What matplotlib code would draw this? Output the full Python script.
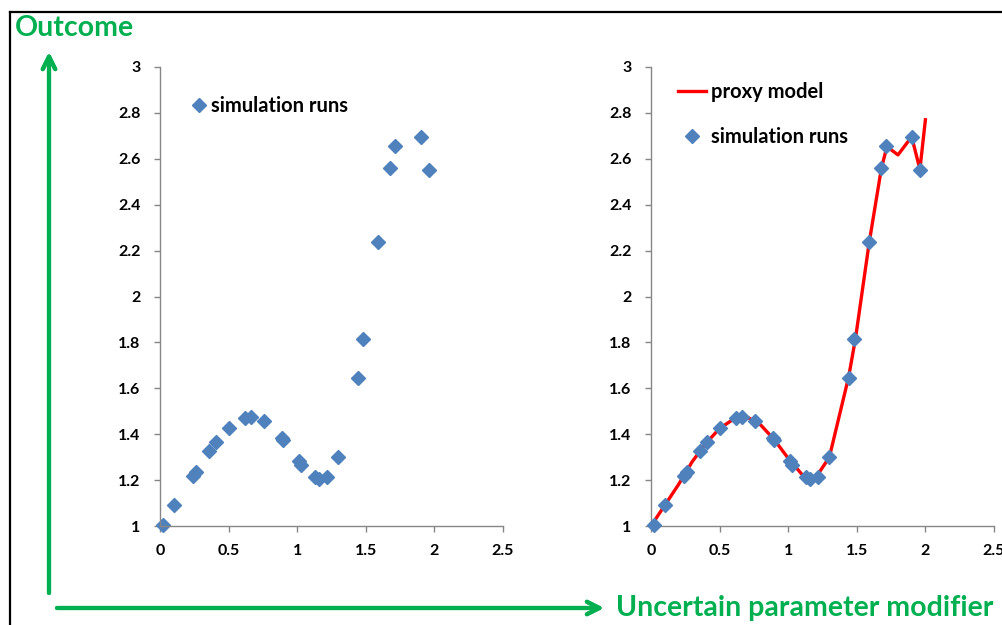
import matplotlib
matplotlib.use("Agg")
import matplotlib.pyplot as plt
from matplotlib.lines import Line2D

# Simulation runs: uncertain parameter modifier vs. outcome
sim_x = [0.02, 0.10, 0.24, 0.26, 0.36, 0.41, 0.50, 0.62, 0.66, 0.76, 0.89, 0.90,
         1.01, 1.03, 1.13, 1.16, 1.22, 1.30, 1.44, 1.48, 1.59, 1.68, 1.71, 1.90, 1.96]
sim_y = [1.005, 1.09, 1.22, 1.235, 1.325, 1.365, 1.425, 1.47, 1.476, 1.456, 1.385, 1.375,
         1.285, 1.266, 1.212, 1.203, 1.215, 1.302, 1.646, 1.815, 2.236, 2.562, 2.655, 2.695, 2.553]

# Proxy model evaluated along the parameter range
proxy_x = [0.0, 0.1, 0.2, 0.3, 0.4, 0.5, 0.6, 0.65, 0.7, 0.8, 0.9, 1.0, 1.1, 1.15, 1.2,
           1.3, 1.44, 1.49, 1.59, 1.68, 1.72, 1.8, 1.9, 1.96, 2.0]
proxy_y = [1.0, 1.09, 1.18, 1.28, 1.36, 1.425, 1.465, 1.478, 1.475, 1.44, 1.375, 1.295,
           1.225, 1.205, 1.21, 1.30, 1.648, 1.815, 2.234, 2.561, 2.653, 2.617, 2.696, 2.554, 2.77]

x_ticks = [0, 0.5, 1, 1.5, 2, 2.5]
x_tick_labels = ["0", "0.5", "1", "1.5", "2", "2.5"]
y_ticks = [1, 1.2, 1.4, 1.6, 1.8, 2, 2.2, 2.4, 2.6, 2.8, 3]
y_tick_labels = ["1", "1.2", "1.4", "1.6", "1.8", "2", "2.2", "2.4", "2.6", "2.8", "3"]

FONT = "Lato"
BLUE = "#4F81BD"
RED = "#FF0000"
GREEN = "#00B050"
GRAY = "#868686"

W, H = 1003, 625
fig = plt.figure(figsize=(W / 100, H / 100), dpi=100)
fig.patch.set_facecolor("white")


def fx(px):
    return px / W


def fy(py):
    return 1 - py / H


def style_axes(ax):
    ax.set_xlim(0, 2.5)
    ax.set_ylim(1, 3)
    ax.set_xticks(x_ticks)
    ax.set_xticklabels(x_tick_labels)
    ax.set_yticks(y_ticks)
    ax.set_yticklabels(y_tick_labels)
    for side in ("top", "right"):
        ax.spines[side].set_visible(False)
    for side in ("left", "bottom"):
        ax.spines[side].set_color(GRAY)
        ax.spines[side].set_linewidth(1.0)
    ax.tick_params(axis="both", direction="out", length=4, width=1.0, color=GRAY,
                   labelsize=11.5)
    ax.tick_params(axis="x", pad=9)
    ax.tick_params(axis="y", pad=10)
    for lab in ax.get_xticklabels() + ax.get_yticklabels():
        lab.set_fontfamily(FONT)
        lab.set_fontweight("bold")
    ax.set_facecolor("white")


ax_w = fx(343)
ax_b = fy(526)
ax_h = (526 - 67) / H

# Left panel: simulation runs only
ax1 = fig.add_axes([fx(160), ax_b, ax_w, ax_h])
style_axes(ax1)
ax1.plot(sim_x, sim_y, linestyle="none", marker="D", markersize=7.5,
         color=BLUE, label="simulation runs", clip_on=False)
ax1.legend(loc="upper left", bbox_to_anchor=(fx(192), fy(96)),
           bbox_transform=fig.transFigure, frameon=False, borderpad=0,
           borderaxespad=0, handlelength=0.65, handletextpad=0.3,
           prop={"family": FONT, "weight": "bold", "size": 14.5})

# Right panel: proxy model with simulation runs
ax2 = fig.add_axes([fx(651), ax_b, ax_w, ax_h])
style_axes(ax2)
ax2.plot(proxy_x, proxy_y, color=RED, linewidth=2.4, label="proxy model",
         solid_joinstyle="round", zorder=2)
ax2.plot(sim_x, sim_y, linestyle="none", marker="D", markersize=7.5,
         color=BLUE, label="simulation runs", zorder=3, clip_on=False)
ax2.legend(loc="upper left", bbox_to_anchor=(fx(678), fy(82)),
           bbox_transform=fig.transFigure, frameon=False, borderpad=0,
           borderaxespad=0, handlelength=1.4, handletextpad=0.25,
           labelspacing=1.25,
           prop={"family": FONT, "weight": "bold", "size": 14.5})

# Outer frame (top and left edges)
fig.add_artist(Line2D([fx(10), fx(10)], [fy(12), 0], transform=fig.transFigure,
                      color="black", linewidth=1.6))
fig.add_artist(Line2D([fx(10), 1], [fy(12), fy(12)], transform=fig.transFigure,
                      color="black", linewidth=1.6))

# Green direction arrows
fig.add_artist(plt.annotate("", xy=(fx(49), fy(52)), xytext=(fx(49), fy(593)),
                            xycoords="figure fraction", textcoords="figure fraction",
                            arrowprops=dict(arrowstyle="->,head_length=0.9,head_width=0.45",
                                            color=GREEN, lw=3.0, shrinkA=0, shrinkB=0)))
fig.add_artist(plt.annotate("", xy=(fx(604), fy(608)), xytext=(fx(57), fy(608)),
                            xycoords="figure fraction", textcoords="figure fraction",
                            arrowprops=dict(arrowstyle="->,head_length=0.9,head_width=0.45",
                                            color=GREEN, lw=3.0, shrinkA=0, shrinkB=0)))

fig.text(fx(15), fy(28), "Outcome", color=GREEN, fontfamily=FONT, fontweight="bold",
         fontsize=20.5, ha="left", va="center")
fig.text(fx(616), fy(608), "Uncertain parameter modifier", color=GREEN, fontfamily=FONT,
         fontweight="bold", fontsize=20.5, ha="left", va="center")

fig.savefig("out.png", dpi=100)
